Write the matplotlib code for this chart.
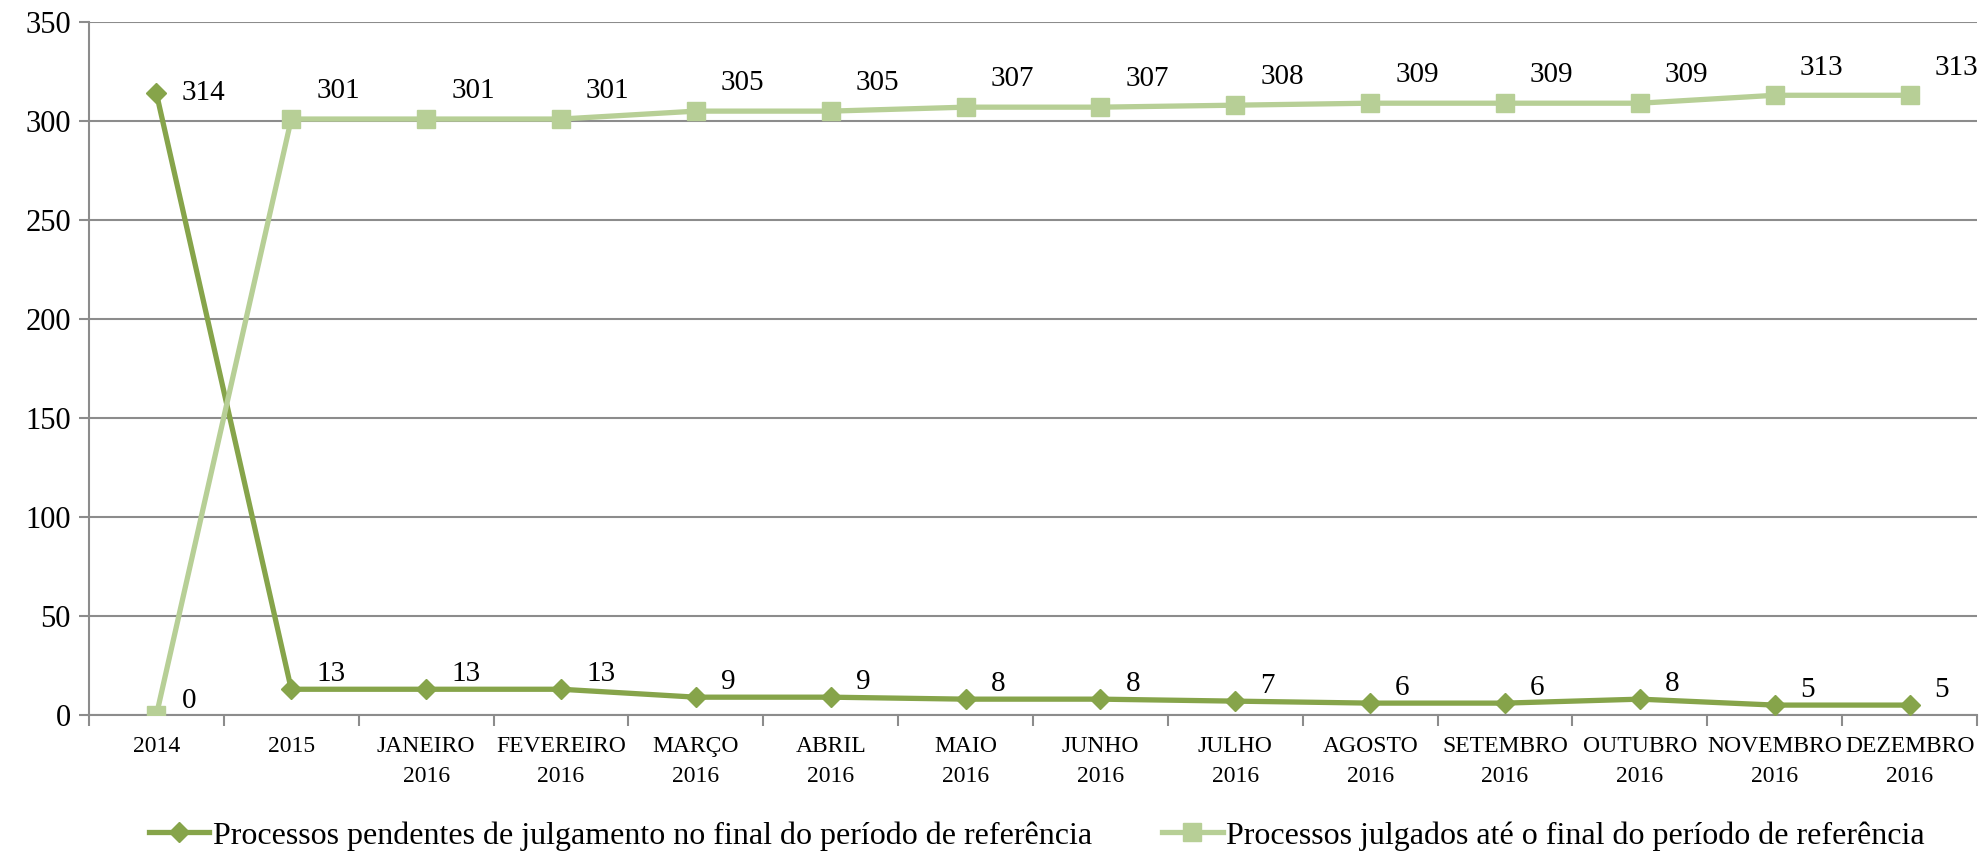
import matplotlib
matplotlib.use("Agg")
import matplotlib.pyplot as plt
import numpy as np

categories = ["2014", "2015", "JANEIRO\n2016", "FEVEREIRO\n2016", "MARÇO\n2016", "ABRIL\n2016",
              "MAIO\n2016", "JUNHO\n2016", "JULHO\n2016", "AGOSTO\n2016", "SETEMBRO\n2016",
              "OUTUBRO\n2016", "NOVEMBRO\n2016", "DEZEMBRO\n2016"]
pendentes = [314, 13, 13, 13, 9, 9, 8, 8, 7, 6, 6, 8, 5, 5]
julgados = [0, 301, 301, 301, 305, 305, 307, 307, 308, 309, 309, 309, 313, 313]
label_pendentes = "Processos pendentes de julgamento no final do período de referência"
label_julgados = "Processos julgados até o final do período de referência"

dark = "#86a44a"
light = "#b7cf96"
grid_c = "#8c8c8c"

plt.rcParams['font.family'] = ['Liberation Serif', 'DejaVu Serif']

fig = plt.figure(figsize=(19.86, 8.57), dpi=100)
ax = fig.add_axes([0.0448, 0.1657, 0.9507, 0.8086])

x = np.arange(len(categories))
ax.plot(x, pendentes, color=dark, lw=3.8, marker="D", markersize=10, label=label_pendentes, zorder=3)
ax.plot(x, julgados, color=light, lw=3.8, marker="s", markersize=13, label=label_julgados, zorder=3)

# data labels (Excel-like, to the right and slightly above)
for i, v in enumerate(pendentes):
    dy = 0 if i == 0 else 11
    ax.annotate(str(v), (x[i], v), xytext=(18, dy), textcoords="offset points",
                ha="left", va="center", fontsize=21)
for i, v in enumerate(julgados):
    dy = 10 if i == 0 else 20
    ax.annotate(str(v), (x[i], v), xytext=(18, dy), textcoords="offset points",
                ha="left", va="center", fontsize=21)

ax.set_xlim(-0.5, len(categories) - 0.5)
ax.set_ylim(0, 350)
ax.set_yticks(range(0, 351, 50))
ax.tick_params(axis="y", labelsize=22, length=7, color=grid_c, width=1.5, pad=6)
ax.yaxis.grid(True, color=grid_c, lw=1.5)
ax.set_axisbelow(True)

ax.set_xticks(x)
ax.set_xticklabels(categories, fontsize=17, linespacing=1.6)
ax.tick_params(axis="x", length=0, pad=15)
ax.set_xticks(np.arange(-0.5, len(categories)), minor=True)
ax.tick_params(axis="x", which="minor", length=8, color=grid_c, width=1.5)

for s in ["top", "right"]:
    ax.spines[s].set_visible(False)
for s in ["left", "bottom"]:
    ax.spines[s].set_color(grid_c)
    ax.spines[s].set_linewidth(1.5)

fig.legend(loc="lower center", bbox_to_anchor=(0.522, -0.026), ncol=2, frameon=False,
           fontsize=23, handlelength=1.9, handletextpad=0.1, columnspacing=2.2)

fig.savefig("out.png", dpi=100)
